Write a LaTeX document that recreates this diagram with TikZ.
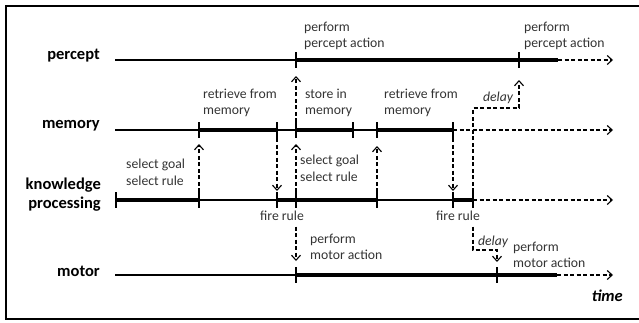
\documentclass[tikz,border=0pt]{standalone}
\usepackage{fontspec}
\setmainfont{Carlito}
\usetikzlibrary{arrows.meta}

\begin{document}
\begin{tikzpicture}[
            x=1pt, y=-1pt,
            idle/.style = {line width=1.1pt},
            busy/.style = {line width=3.8pt},
            tickmark/.style = {line width=2.6pt},
            later/.style = {line width=1.1pt, dash pattern=on 4pt off 2.5pt, -{Straight Barb[length=5pt, width=9pt]}},
            signal/.style = {later},
            lane/.style = {font=\fontsize{16.5}{19}\selectfont\bfseries, anchor=east, align=right, inner sep=0pt},
            note/.style = {font=\fontsize{13.7}{16.8}\selectfont, text=black!80, align=left, inner sep=0pt, anchor=north west},
            delaytext/.style = {font=\fontsize{13.7}{16.8}\selectfont\itshape, text=black!80, inner sep=0pt}
        ]

        \useasboundingbox (0,0) rectangle (639,322);
        \draw[line width=2pt] (6,6) rectangle (642,319);

        % lanes
        \node[lane] (percept) at (100,56) {percept};
        \node[lane] (memory) at (100,126) {memory};
        \node[lane] (knowledge) at (101,195) {knowledge\\processing};
        \node[lane] (motor) at (100,271) {motor};
        \node[lane, font=\fontsize{16.5}{19}\selectfont\bfseries\itshape] (time) at (623,296) {time};

        % events on each lane
        \foreach \n/\x in {0/115, 1/296, 2/519, 3/558, 4/613} \coordinate (p\n) at (\x,60);
        \foreach \n/\x in {0/115, 1/199, 2/277, 3/296, 4/353, 5/377, 6/453, 7/613} \coordinate (m\n) at (\x,130);
        \foreach \n/\x in {1/116, 2/199, 3/277, 4/296, 5/377, 6/453, 7/473, 8/613} \coordinate (k\n) at (\x,200);
        \foreach \n/\x in {0/115, 1/296, 2/497, 3/557, 4/613} \coordinate (t\n) at (\x,275);

        \draw[idle] (p0) -- (p1);
        \draw[busy] (p1) -- (p3);
        \draw[later] (p3) -- (p4);

        \draw[idle] (m0) -- (m1);
        \draw[busy] (m1) -- (m2);
        \draw[idle] (m2) -- (m3);
        \draw[busy] (m3) -- (m4);
        \draw[idle] (m4) -- (m5);
        \draw[busy] (m5) -- (m6);
        \draw[later] (m6) -- (m7);

        \draw[busy] (k1) -- (k2);
        \draw[idle] (k2) -- (k3);
        \draw[busy] (k3) -- (k5);
        \draw[idle] (k5) -- (k6);
        \draw[busy] (k6) -- (k7);
        \draw[later] (k7) -- (k8);

        \draw[idle] (t0) -- (t1);
        \draw[busy] (t1) -- (t3);
        \draw[later] (t3) -- (t4);

        \foreach \c in {p1, p2, m1, m2, m3, m4, m5, m6, k1, k2, k3, k4, k5, k6, k7, t1, t2}
            \draw[tickmark] ([yshift=8pt]\c) -- ([yshift=-8pt]\c);

        % what happens
        \node[note] (percept1) at (304,21.5) {perform\\percept action};
        \node[note] (percept2) at (524,21.5) {perform\\percept action};
        \node[note] (retrieve1) at (203,88.5) {retrieve from\\memory};
        \node[note] (store) at (305,88.5) {store in\\memory};
        \node[note] (retrieve2) at (384,88.5) {retrieve from\\memory};
        \node[note] (select1) at (126,158.5) {select goal\\select rule};
        \node[note] (select2) at (300,154.5) {select goal\\select rule};
        \node[note, anchor=north] (fire1) at (282,210.5) {fire rule};
        \node[note, anchor=north] (fire2) at (458,210.5) {fire rule};
        \node[note] (motor1) at (310,233.5) {perform\\motor action};
        \node[note] (motor2) at (513,241.5) {perform\\motor action};
        \node[delaytext] (delay1) at (498,98) {delay};
        \node[delaytext] (delay2) at (493,242) {delay};

        % signals between lanes
        \draw[signal] ([yshift=8pt]k2) -- ([yshift=-14pt]m1);
        \draw[signal] ([yshift=-8pt]m2) -- ([yshift=9pt]k3);
        \draw[signal] ([yshift=8pt]k4) -- ([yshift=-14pt]m3);
        \draw[signal] ([yshift=8pt]m3) -- ([yshift=-16pt]p1);
        \draw[signal] ([yshift=-6pt]k4 |- fire1.south) -- ([yshift=14pt]t1);
        \draw[signal] ([yshift=8pt]k5) -- ([yshift=-16pt]m5);
        \draw[signal] ([yshift=-8pt]m6) -- ([yshift=9pt]k6);
        \draw[signal] ([yshift=8pt]k7) |- ([yshift=-48pt]p2) -- ([yshift=-20pt]p2);
        \draw[signal] ([yshift=-6pt]k7 |- fire2.south) |- ([yshift=25pt]t2) -- ([yshift=13pt]t2);
    \end{tikzpicture}
\end{document}
